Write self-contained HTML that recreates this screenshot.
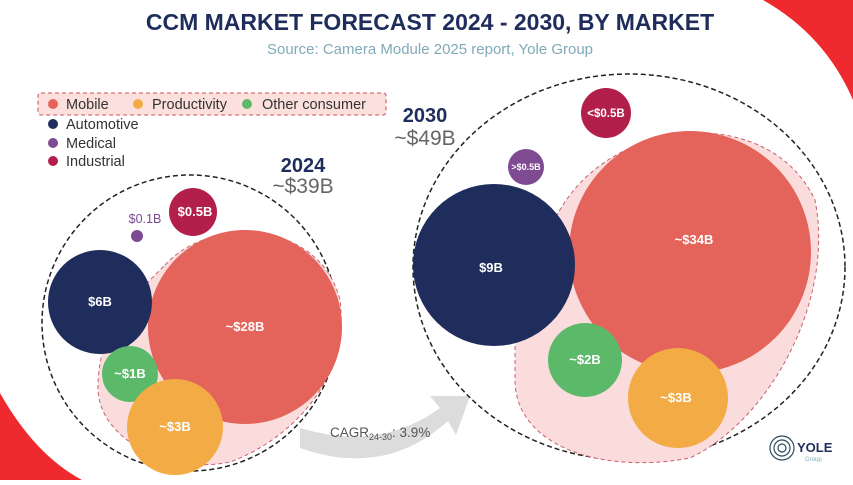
<!DOCTYPE html>
<html><head><meta charset="utf-8"><style>
body{margin:0;width:853px;height:480px;overflow:hidden;background:#fff;font-family:"Liberation Sans",sans-serif}
</style></head><body>
<svg width="853" height="480" viewBox="0 0 853 480" xmlns="http://www.w3.org/2000/svg" font-family="Liberation Sans, sans-serif">
<path d="M763 0 Q825 35 853 100 L853 0 Z" fill="#ee2a2e"/>
<path d="M0 393 Q35 455 82 480 L0 480 Z" fill="#ee2a2e"/>
<text x="430" y="30" text-anchor="middle" font-size="23" font-weight="bold" fill="#1f2d5c">CCM MARKET FORECAST 2024 - 2030, BY MARKET</text>
<text x="430" y="54" text-anchor="middle" font-size="15" fill="#80aab8">Source: Camera Module 2025 report, Yole Group</text>
<rect x="38" y="93" width="348" height="22" rx="3" fill="#fbe0de" stroke="#d9707a" stroke-dasharray="4,3" stroke-width="1.3"/>
<g font-size="14.5" fill="#333">
<circle cx="53" cy="104" r="5" fill="#e4635a"/><text x="66" y="109">Mobile</text>
<circle cx="138" cy="104" r="5" fill="#f2ab45"/><text x="152" y="109">Productivity</text>
<circle cx="247" cy="104" r="5" fill="#5db96a"/><text x="262" y="109">Other consumer</text>
<circle cx="53" cy="124" r="5" fill="#1f2d5c"/><text x="66" y="129">Automotive</text>
<circle cx="53" cy="143" r="5" fill="#7e4a92"/><text x="66" y="148">Medical</text>
<circle cx="53" cy="161" r="5" fill="#b31f4b"/><text x="66" y="166">Industrial</text>
</g>
<text x="303" y="172" text-anchor="middle" font-size="20" font-weight="bold" fill="#1f2d5c">2024</text>
<text x="303" y="193" text-anchor="middle" font-size="21" fill="#666">~$39B</text>
<text x="425" y="122" text-anchor="middle" font-size="20" font-weight="bold" fill="#1f2d5c">2030</text>
<text x="425" y="145" text-anchor="middle" font-size="21" fill="#666">~$49B</text>
<!-- arrow -->
<path d="M300 428 Q380 452 440 408 L430 396 L470 396 L456 435 L448 421 Q385 478 300 448 Z" fill="#dcdcdc"/>
<text x="330" y="437" font-size="13.5" fill="#555">CAGR<tspan font-size="9" dy="3">24-30</tspan><tspan dy="-3">: 3.9%</tspan></text>
<!-- 2024 -->
<ellipse cx="190" cy="323" rx="148" ry="148" fill="none" stroke="#222" stroke-width="1.5" stroke-dasharray="5,3"/>
<path d="M165 265 C210 215 320 220 340 300 C350 380 290 440 230 462 C170 475 100 440 98 390 C97 330 130 300 165 265 Z" fill="#fadcdc" stroke="#c9606a" stroke-width="1" stroke-dasharray="4,3"/>
<circle cx="245" cy="327" r="97" fill="#e4635a"/>
<circle cx="100" cy="302" r="52" fill="#1f2d5c"/>
<circle cx="137" cy="236" r="6" fill="#7e4a92"/>
<circle cx="193" cy="212" r="24" fill="#b31f4b"/>
<circle cx="130" cy="374" r="28" fill="#5db96a"/>
<circle cx="175" cy="427" r="48" fill="#f2ab45"/>
<g font-size="13" fill="#fff" text-anchor="middle" font-weight="bold">
<text x="245" y="331">~$28B</text><text x="100" y="306">$6B</text>
<text x="195" y="216">$0.5B</text><text x="130" y="378">~$1B</text><text x="175" y="431">~$3B</text>
</g>
<text x="145" y="223" font-size="12.5" fill="#7e4a92" text-anchor="middle">$0.1B</text>
<!-- 2030 -->
<ellipse cx="629" cy="267" rx="216" ry="193" fill="none" stroke="#222" stroke-width="1.5" stroke-dasharray="5,3"/>
<path d="M563 205 C620 115 770 105 815 200 C835 300 770 420 690 458 C600 475 515 445 515 380 L515 345 C525 290 540 240 563 205 Z" fill="#fadcdc" stroke="#c9606a" stroke-width="1" stroke-dasharray="4,3"/>
<circle cx="690" cy="252" r="121" fill="#e4635a"/>
<circle cx="494" cy="265" r="81" fill="#1f2d5c"/>
<circle cx="526" cy="167" r="18" fill="#7e4a92"/>
<circle cx="606" cy="113" r="25" fill="#b31f4b"/>
<circle cx="585" cy="360" r="37" fill="#5db96a"/>
<circle cx="678" cy="398" r="50" fill="#f2ab45"/>
<g font-size="13" fill="#fff" text-anchor="middle" font-weight="bold">
<text x="694" y="244">~$34B</text><text x="491" y="272">$9B</text>
<text x="606" y="117" font-size="11.5">&lt;$0.5B</text><text x="526" y="170" font-size="9">&gt;$0.5B</text>
<text x="585" y="364">~$2B</text><text x="676" y="402">~$3B</text>
</g>
<g fill="none" stroke="#2f4a5c" stroke-width="1.2">
<circle cx="782" cy="448" r="12"/><circle cx="782" cy="448" r="8"/><circle cx="782" cy="448" r="4"/>
</g>
<text x="797" y="452" font-size="13" font-weight="bold" fill="#1f2d5c">YOLE</text>
<text x="805" y="461" font-size="6" fill="#80aab8">Group</text>
</svg>
</body></html>
